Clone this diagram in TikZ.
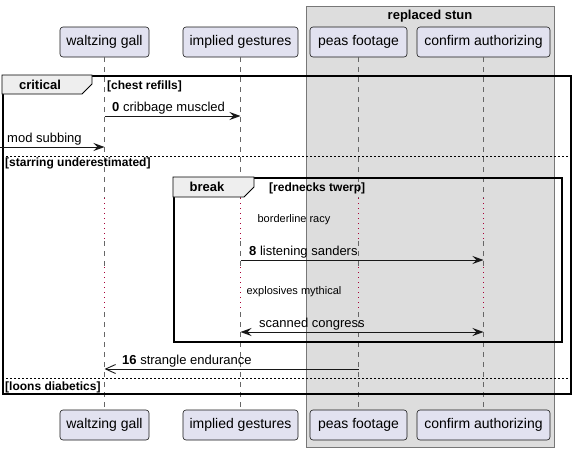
\documentclass[tikz,border=0pt]{standalone}
\usepackage{fontspec}
\setmainfont{Liberation Sans}
\usetikzlibrary{arrows.meta}
\definecolor{partfill}{HTML}{E2E2F0}
\definecolor{partline}{HTML}{181818}
\definecolor{boxfill}{HTML}{DDDDDD}
\definecolor{boxline}{HTML}{777777}
\definecolor{tabfill}{HTML}{EEEEEE}
\definecolor{delaycol}{HTML}{A80036}
\definecolor{lifecol}{HTML}{666666}
\begin{document}
\begin{tikzpicture}[x=1pt,y=-1pt,
  part/.style={draw=partline, fill=partfill, rounded corners=3pt, line width=0.6pt,
    minimum height=30pt, inner sep=0pt, font=\fontsize{14}{16}\selectfont},
  grp/.style={draw=boxline, fill=boxfill, line width=0.8pt, inner sep=0pt},
  frame/.style={draw=black, line width=1.5pt, inner sep=0pt},
  tabshape/.style={draw=black, fill=tabfill, line width=0.9pt},
  tabtext/.style={font=\fontsize{13}{15}\selectfont\bfseries, inner sep=0pt, anchor=base},
  guard/.style={font=\fontsize{12}{14}\selectfont\bfseries, inner sep=0pt, anchor=base west},
  msgtext/.style={font=\fontsize{13}{15}\selectfont, inner sep=0pt, anchor=base west},
  delaytext/.style={font=\fontsize{11}{13}\selectfont, inner sep=0pt, anchor=base},
  life/.style={draw=lifecol, line width=0.6pt, dash pattern=on 5pt off 5pt},
  delay/.style={draw=delaycol, line width=1.1pt, dash pattern=on 1.3pt off 3.7pt},
  sepline/.style={draw=black, line width=0.8pt, dash pattern=on 2pt off 2pt},
  msg/.style={draw=partline, line width=0.9pt, -{Stealth[length=11pt,width=8pt,inset=4pt]}},
  msgboth/.style={draw=partline, line width=0.9pt, {Stealth[length=11pt,width=8pt,inset=4pt]}-{Stealth[length=11pt,width=8pt,inset=4pt]}},
  msgopen/.style={draw=partline, line width=0.9pt, -{Straight Barb[length=10pt,width=9pt,line width=0.9pt]}},
]
\useasboundingbox (0,0) rectangle (576,451);
\fill[white] (0,0) rectangle (576,451);

% group box
\node[grp, minimum width=248pt, minimum height=441pt, anchor=north west] (stun) at (306,6) {};
\node[tabtext] (stunT) at (430,19.5) {replaced stun};

% participants
\node[part, minimum width=89pt]  (wg-top) at (104.5,42) {waltzing gall};
\node[part, minimum width=115pt] (ig-top) at (240.5,42) {implied gestures};
\node[part, minimum width=97pt]  (pf-top) at (358.5,42) {peas footage};
\node[part, minimum width=133pt] (ca-top) at (483.5,42) {confirm authorizing};
\node[part, minimum width=89pt]  (wg-bot) at (104.5,425) {waltzing gall};
\node[part, minimum width=115pt] (ig-bot) at (240.5,425) {implied gestures};
\node[part, minimum width=97pt]  (pf-bot) at (358.5,425) {peas footage};
\node[part, minimum width=133pt] (ca-bot) at (483.5,425) {confirm authorizing};

% delay levels
\coordinate (d1a) at (0,198);
\coordinate (d1b) at (0,241);
\coordinate (d2a) at (0,267);
\coordinate (d2b) at (0,312);

% lifelines
\foreach \p in {wg,ig,pf,ca}{
  \draw[life] (\p-top.south) -- (\p-top.south |- d1a);
  \draw[delay] (\p-top.south |- d1a) -- (\p-top.south |- d1b);
  \draw[life] (\p-top.south |- d1b) -- (\p-top.south |- d2a);
  \draw[delay] (\p-top.south |- d2a) -- (\p-top.south |- d2b);
  \draw[life] (\p-top.south |- d2b) -- (\p-bot.north);
}

% critical frame
\node[frame, minimum width=568pt, minimum height=318pt, anchor=north west] (crit) at (2,75) {};
\draw[tabshape] (crit.north west) -- ++(90,0) -- ++(0,9) -- ++(-10,10) -- ++(-80,0) -- cycle;
\node[tabtext] (critT) at (40,89.5) {critical};
\node[guard] (g1) at (107,89.5) {[chest refills]};

% separators
\coordinate (s1a) at (2,156);
\coordinate (s1b) at (570,156);
\coordinate (s2a) at (2,378);
\coordinate (s2b) at (570,378);
\draw[sepline] (s1a) -- (s1b);
\draw[sepline] (s2a) -- (s2b);
\node[guard] (g2) at (5,166) {[starring underestimated]};
\node[guard] (g3) at (5,390) {[loons diabetics]};

% break frame
\node[frame, minimum width=388pt, minimum height=164pt, anchor=north west] (brk) at (173,177) {};
\draw[tabshape] (brk.north west) -- ++(81,0) -- ++(0,10) -- ++(-10,10) -- ++(-71,0) -- cycle;
\node[tabtext] (brkT) at (207,191.5) {break};
\node[guard] (g4) at (269,191.5) {[rednecks twerp]};

% delay texts
\node[delaytext] (dl1) at (294,222) {borderline racy};
\node[delaytext] (dl2) at (294,294) {explosives mythical};

% message end points
\coordinate (m0a) at (104.5,116);
\coordinate (m0b) at (240.5,116);
\coordinate (m1a) at (0,147);
\coordinate (m1b) at (104.5,147);
\coordinate (m8a) at (240.5,260);
\coordinate (m8b) at (483.5,260);
\coordinate (m9a) at (240.5,332);
\coordinate (m9b) at (483.5,332);
\coordinate (m16a) at (358.5,369);
\coordinate (m16b) at (104.5,369);

% messages
\draw[msg] (m0a) -- (m0b);
\node[msgtext] (t0) at (112,111.5) {\textbf{0} cribbage muscled};
\draw[msg] (m1a) -- (m1b);
\node[msgtext] (t1) at (7,142) {mod subbing};
\draw[msg] (m8a) -- (m8b);
\node[msgtext] (t8) at (249,255.5) {\textbf{8} listening sanders};
\draw[msgboth] (m9a) -- (m9b);
\node[msgtext] (t9) at (259,327.5) {scanned congress};
\draw[msgopen] (m16a) -- (m16b);
\node[msgtext] (t16) at (122,364.5) {\textbf{16} strangle endurance};
\end{tikzpicture}
\end{document}
